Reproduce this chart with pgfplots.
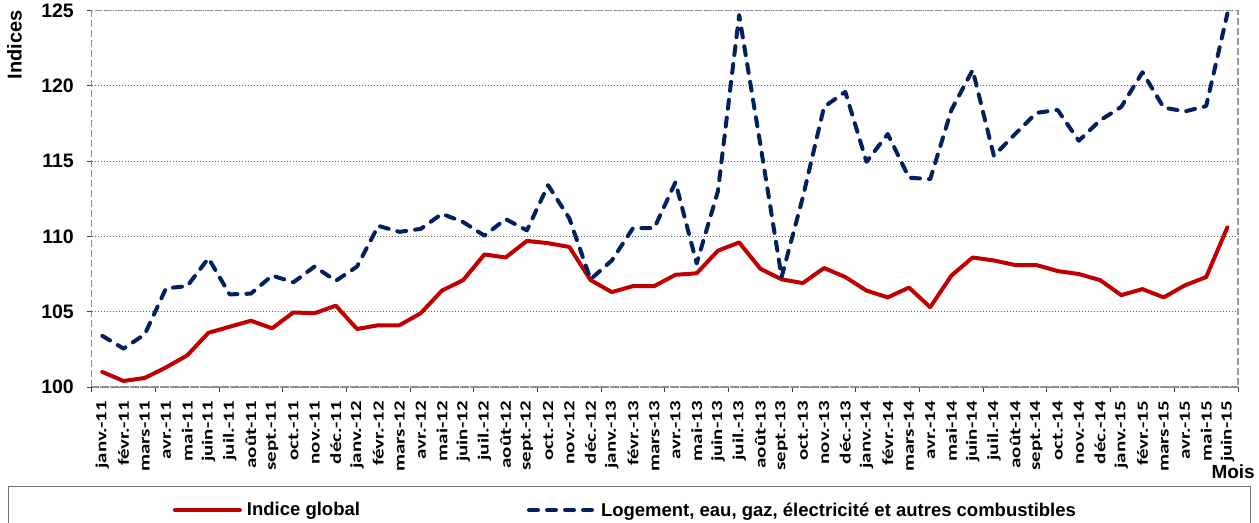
\documentclass[border=0pt]{standalone}
\usepackage{fontspec}
\setmainfont{Liberation Sans}
\newfontfamily\xfont{Carlito}[FakeStretch=1.35]
\usepackage{pgfplots}
\usepackage{pgfplotstable}
\pgfplotsset{compat=1.18}
\definecolor{cred}{HTML}{C00000}
\definecolor{cblue}{HTML}{002060}
\pgfplotstableread{
i global logement
0 101.0 103.4
1 100.4 102.55
2 100.6 103.5
3 101.3 106.55
4 102.1 106.7
5 103.6 108.55
6 104.0 106.15
7 104.4 106.2
8 103.9 107.4
9 104.95 106.95
10 104.9 108.0
11 105.4 107.05
12 103.85 108.0
13 104.1 110.7
14 104.1 110.3
15 104.9 110.5
16 106.4 111.5
17 107.1 110.95
18 108.8 110.05
19 108.6 111.15
20 109.7 110.4
21 109.55 113.4
22 109.3 111.2
23 107.1 107.15
24 106.3 108.4
25 106.7 110.55
26 106.7 110.55
27 107.45 113.6
28 107.55 108.2
29 109.05 113.0
30 109.6 124.7
31 107.85 116.1
32 107.15 107.3
33 106.9 112.6
34 107.9 118.6
35 107.3 119.6
36 106.4 114.95
37 105.95 116.8
38 106.6 113.9
39 105.3 113.8
40 107.4 118.4
41 108.6 121.05
42 108.4 115.35
43 108.1 116.8
44 108.1 118.2
45 107.7 118.4
46 107.5 116.35
47 107.1 117.7
48 106.1 118.6
49 106.5 120.9
50 105.95 118.55
51 106.75 118.3
52 107.3 118.65
53 110.6 124.8
}\datatable
\begin{document}
\begin{tikzpicture}
\path[use as bounding box] (-91.7bp,-136bp) rectangle (1167.3bp,387bp);
\begin{axis}[
  scale only axis, width=1146.3bp, height=376.5bp,
  at={(0,0)}, anchor=south west,
  xmin=-0.5, xmax=53.5, ymin=100, ymax=125,
  clip=false,
  ytick={100,105,...,125},
  xtick={0,...,53},
  xticklabels={janv.-11,févr.-11,mars-11,avr.-11,mai-11,juin-11,juil.-11,août-11,sept.-11,oct.-11,nov.-11,déc.-11,
    janv.-12,févr.-12,mars-12,avr.-12,mai-12,juin-12,juil.-12,août-12,sept.-12,oct.-12,nov.-12,déc.-12,
    janv.-13,févr.-13,mars-13,avr.-13,mai-13,juin-13,juil.-13,août-13,sept.-13,oct.-13,nov.-13,déc.-13,
    janv.-14,févr.-14,mars-14,avr.-14,mai-14,juin-14,juil.-14,août-14,sept.-14,oct.-14,nov.-14,déc.-14,
    janv.-15,févr.-15,mars-15,avr.-15,mai-15,juin-15},
  minor xtick={-0.5,2.5,...,53.5},
  major x tick style={draw=none},
  tick align=outside, major tick length=5bp, minor tick length=5bp,
  tick pos=left,
  tick style={black!75, line width=1bp},
  ymajorgrids,
  major grid style={black!60, dash pattern=on 1.5bp off 1.5bp, line width=0.8bp},
  axis line style={black!40, line width=1.6bp, dash pattern=on 7bp off 3bp},
  /pgf/number format/assume math mode=true,
  yticklabel style={font=\fontsize{19.5bp}{20bp}\selectfont\bfseries, anchor=east, inner sep=0pt, xshift=-12.7bp},
  xticklabel style={font=\xfont\fontsize{15.5bp}{16bp}\selectfont\bfseries, yshift=-9bp, rotate=90, anchor=east, inner sep=0pt},
  ylabel={Indices},
  ylabel style={font=\fontsize{20bp}{21bp}\selectfont\bfseries, at={(axis description cs:-0.0608,1.0013)}, anchor=south east, inner sep=0pt, rotate=0},
  xlabel={Mois},
  xlabel style={font=\fontsize{19bp}{20bp}\selectfont\bfseries, at={(axis description cs:1.0148,-0.2072)}, anchor=north east, inner sep=0pt},
  legend columns=2,
  legend image code/.code={\draw[#1] (0bp,0bp) -- (65bp,0bp);},
  legend style={at={(axis description cs:0.0707,-0.3267)}, anchor=west, draw=none, fill=none, inner sep=0pt,
    font=\fontsize{18.5bp}{19bp}\selectfont\bfseries,
    nodes={inner sep=0pt},
    /tikz/every odd column/.append style={column sep=5bp},
    /tikz/every even column/.append style={column sep=167bp}},
]
\draw[black!45!white, line width=1.6bp, dash pattern=on 7bp off 3bp] (rel axis cs:0,0) -- (rel axis cs:0,1);
\draw[black!45!white, line width=1.6bp, dash pattern=on 7bp off 3bp] (rel axis cs:0,0) -- (rel axis cs:1,0);
\addplot[cred, line width=4bp, line join=round, line cap=round] table[x=i, y=global] {\datatable};
\addlegendentry{Indice global}
\addplot[cblue, line width=4bp, line join=round, line cap=round, dash pattern=on 9bp off 9bp] table[x=i, y=logement] {\datatable};
\addlegendentry{Logement, eau, gaz, électricité et autres combustibles}
\draw[black!55, line width=1bp] (axis description cs:-0.073,-0.2656) rectangle (axis description cs:1.0105,-0.45);
\end{axis}
\end{tikzpicture}
\end{document}
